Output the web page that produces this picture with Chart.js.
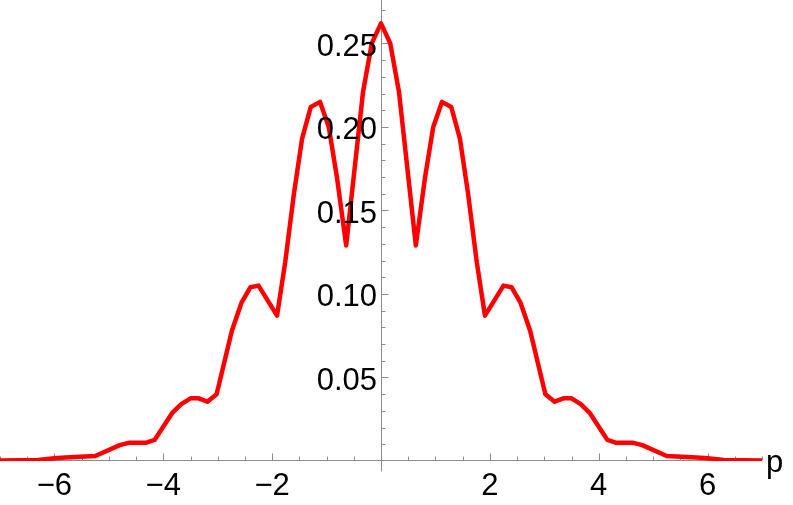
<!DOCTYPE html>
<html>
<head>
<meta charset="utf-8">
<script src="https://cdn.jsdelivr.net/npm/chart.js@4/dist/chart.umd.min.js"></script>
<style>
  html, body { margin: 0; padding: 0; background: #fff; }
  #wrap { width: 793px; height: 505px; }
</style>
</head>
<body>
<div id="wrap"><canvas id="plot"></canvas></div>
<script>
const pValues = [
  -7.00, -6.30, -6.00, -5.80, -5.25, -4.80, -4.62, -4.31, -4.16, -3.83, -3.67,
  -3.50, -3.35, -3.19, -3.02, -2.74, -2.56, -2.40, -2.25, -1.91, -1.76, -1.60,
  -1.45, -1.29, -1.12, -0.96, -0.81, -0.64, -0.33, -0.17,
  0.00,
  0.17, 0.33, 0.64, 0.81, 0.96, 1.12, 1.29, 1.45, 1.60, 1.76, 1.91,
  2.25, 2.40, 2.56, 2.74, 3.02, 3.19, 3.35, 3.50, 3.67, 3.83, 4.16,
  4.31, 4.62, 4.80, 5.25, 5.80, 6.00, 6.30, 7.00
];
const densityValues = [
  0.0003, 0.0006, 0.0016, 0.0021, 0.0030, 0.0095, 0.0110, 0.0110, 0.0126, 0.0290, 0.0340,
  0.0375, 0.0375, 0.0355, 0.0400, 0.0780, 0.0950, 0.1040, 0.1050, 0.0870, 0.1190, 0.1600,
  0.1930, 0.2120, 0.2150, 0.2000, 0.1700, 0.1290, 0.2210, 0.2500,
  0.2620,
  0.2500, 0.2210, 0.1290, 0.1700, 0.2000, 0.2150, 0.2120, 0.1930, 0.1600, 0.1190, 0.0870,
  0.1050, 0.1040, 0.0950, 0.0780, 0.0400, 0.0355, 0.0375, 0.0375, 0.0340, 0.0290, 0.0126,
  0.0110, 0.0110, 0.0095, 0.0030, 0.0021, 0.0016, 0.0006, 0.0003
];
const xTicks = [-6, -4, -2, 2, 4, 6];
const xTickLabels = ['\u22126', '\u22124', '\u22122', '2', '4', '6'];
const yTicks = [0.05, 0.10, 0.15, 0.20, 0.25];
const yTickLabels = ['0.05', '0.10', '0.15', '0.20', '0.25'];
const xAxisTitle = 'p';

const axisColor = '#8c8c8c';
const labelFont = '31px "Liberation Sans", Arial, sans-serif';

// axes through the origin, Mathematica style
const originAxes = {
  id: 'originAxes',
  beforeDatasetsDraw(chart) {
    const { ctx, scales: { x, y } } = chart;
    const x0 = Math.round(x.getPixelForValue(0)) + 0.5;
    const y0 = Math.round(y.getPixelForValue(0)) - 0.5;
    ctx.save();
    ctx.strokeStyle = axisColor;
    ctx.lineWidth = 1;
    ctx.beginPath();
    ctx.moveTo(x.getPixelForValue(x.min), y0);
    ctx.lineTo(x.getPixelForValue(x.max), y0);
    ctx.moveTo(x0, 0);
    ctx.lineTo(x0, y0 + 11);
    // x ticks: minor every 0.5, major every 2 (pointing up)
    for (let v = -7; v <= 7.001; v += 0.5) {
      if (Math.abs(v) < 1e-6) continue;
      const px = Math.round(x.getPixelForValue(v)) + 0.5;
      const len = Math.abs(v % 2) < 1e-6 ? 7 : 4;
      ctx.moveTo(px, y0);
      ctx.lineTo(px, y0 - len);
    }
    // y ticks: minor every 0.01, major every 0.05 (pointing right)
    for (let i = 1; i <= 27; i++) {
      const py = Math.round(y.getPixelForValue(i / 100)) + 0.5;
      const len = i % 5 === 0 ? 7 : 4;
      ctx.moveTo(x0, py);
      ctx.lineTo(x0 + len, py);
    }
    ctx.stroke();
    ctx.restore();
  },
  afterDatasetsDraw(chart) {
    const { ctx, scales: { x, y } } = chart;
    const x0 = x.getPixelForValue(0);
    const y0 = y.getPixelForValue(0);
    ctx.save();
    ctx.fillStyle = '#000';
    ctx.font = labelFont;
    ctx.textBaseline = 'alphabetic';
    ctx.textAlign = 'center';
    xTicks.forEach((v, i) => {
      ctx.fillText(xTickLabels[i], x.getPixelForValue(v), y0 + 34);
    });
    ctx.textAlign = 'right';
    yTicks.forEach((v, i) => {
      ctx.fillText(yTickLabels[i], x0 - 4, y.getPixelForValue(v) + 12.5);
    });
    ctx.textAlign = 'left';
    ctx.fillText(xAxisTitle, x.getPixelForValue(x.max) + 4, y0 + 11);
    ctx.restore();
  }
};

new Chart(document.getElementById('plot'), {
  type: 'line',
  data: {
    datasets: [{
      data: pValues.map((p, i) => ({ x: p, y: densityValues[i] })),
      borderColor: '#ff0000',
      borderWidth: 4.5,
      borderJoinStyle: 'round',
      pointRadius: 0,
      tension: 0,
      fill: false
    }]
  },
  options: {
    responsive: true,
    maintainAspectRatio: false,
    animation: false,
    layout: { padding: { left: 0, right: 31, top: 0, bottom: 44 } },
    plugins: { legend: { display: false }, tooltip: { enabled: false } },
    scales: {
      x: { type: 'linear', min: -7, max: 7, display: false },
      y: { type: 'linear', min: 0, max: 0.276, display: false }
    }
  },
  plugins: [originAxes]
});
</script>
</body>
</html>
